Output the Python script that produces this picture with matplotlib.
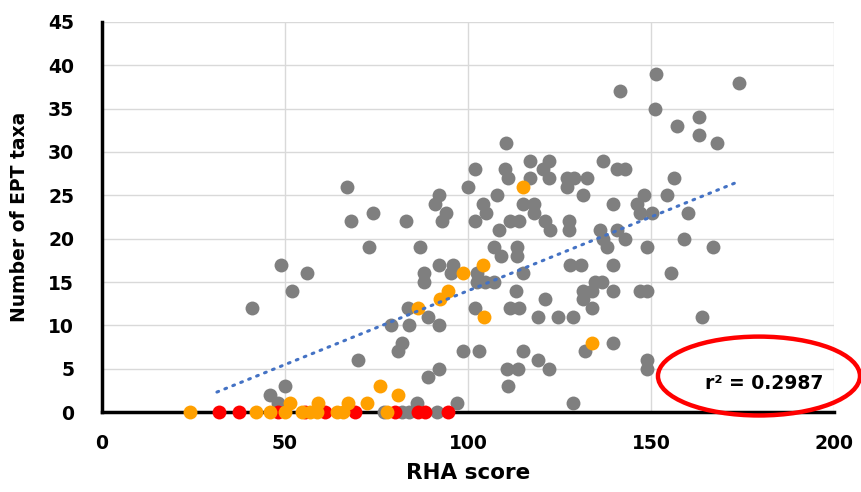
import matplotlib
matplotlib.use("Agg")
import matplotlib.pyplot as plt
from matplotlib.patches import Ellipse

# grey sites (RHA score, EPT taxa)
gray_x = [41, 49, 52, 56, 46, 50, 48,
          67, 74, 68, 73, 83, 87,
          92, 91, 94, 93,
          100, 102, 102, 104, 105, 108, 108.5, 110, 111,
          117, 122, 120.5, 122, 117, 127, 129, 132.5, 127,
          115, 118, 118, 111.5, 114, 121, 122.5, 127.5, 127.5,
          110.5, 137, 140.7, 143, 131.4, 148, 154.4, 139.6, 146.2, 147, 150.3, 160, 156.3,
          151.4, 174, 141.5, 151, 157, 163, 163, 168,
          136, 140.7, 143, 137, 138, 149, 159, 167,
          139.5, 128, 131, 115, 155.5, 134.7, 136.6, 131.4, 134, 139.5, 147, 149, 113,
          131.4, 134, 121, 111.5, 114, 119, 124.6, 128.7, 164,
          139.6, 132, 115, 119, 110.7, 113.7, 122, 149, 149, 111, 128.7,
          107, 109, 113.5, 113.5, 92, 96, 95.4, 88, 88, 102.5, 102.5, 104.6, 107,
          83.6, 89, 79, 84, 92, 102, 82, 81, 70, 98.6, 103, 92, 89, 86, 97,
          77, 82, 84, 91.5]
gray_y = [12, 17, 14, 16, 2, 3, 1,
          26, 23, 22, 19, 22, 19,
          25, 24, 23, 22,
          26, 28, 22, 24, 23, 25, 21, 28, 27,
          29, 29, 28, 27, 27, 27, 27, 27, 26,
          24, 24, 23, 22, 22, 22, 21, 22, 21,
          31, 29, 28, 28, 25, 25, 25, 24, 24, 23, 23, 23, 27,
          39, 38, 37, 35, 33, 34, 32, 31,
          21, 21, 20, 20, 19, 19, 20, 19,
          17, 17, 17, 16, 16, 15, 15, 14, 14, 14, 14, 14, 14,
          13, 12, 13, 12, 12, 11, 11, 11, 11,
          8, 7, 7, 6, 5, 5, 5, 6, 5, 3, 1,
          19, 18, 19, 18, 17, 17, 16, 16, 15, 16, 15, 15, 15,
          12, 11, 10, 10, 10, 12, 8, 7, 6, 7, 7, 5, 4, 1, 1,
          0, 0, 0, 0]

orange_x = [115, 98.6, 104, 94.5, 92.3, 86.3, 104.4, 134, 76, 81,
            24, 42, 46, 50, 51.4, 54.6, 56.8, 59, 58.7, 64.2, 65.8, 67.2, 72.4, 78]
orange_y = [26, 16, 17, 14, 13, 12, 11, 8, 3, 2,
            0, 0, 0, 0, 1, 0, 0, 1, 0, 0, 0, 1, 1, 0]

red_x = [32, 37.5, 48, 55.5, 61, 69, 80, 86.3, 88.3, 94.5]
red_y = [0, 0, 0, 0, 0, 0, 0, 0, 0, 0]

trend_x = [31.4, 174]
trend_y = [2.3, 26.6]
r2_text = "r\u00b2 = 0.2987"

fig = plt.figure(figsize=(8.61, 4.92), dpi=100)
ax = fig.add_axes([102 / 861, 80 / 492, 732 / 861, 390 / 492])

ax.set_xlim(0, 200)
ax.set_ylim(0, 45)
ax.set_xticks(range(0, 201, 50))
ax.set_yticks(range(0, 46, 5))
ax.grid(True, color="#d9d9d9", linewidth=1)
ax.set_axisbelow(True)

for side in ["top", "right"]:
    ax.spines[side].set_visible(False)
for side in ["left", "bottom"]:
    ax.spines[side].set_linewidth(2.5)
    ax.spines[side].set_color("black")

ax.tick_params(length=0, labelsize=13.5)
ax.tick_params(axis="x", pad=16)
ax.tick_params(axis="y", pad=20)
for lab in ax.get_xticklabels() + ax.get_yticklabels():
    lab.set_fontweight("bold")

ax.scatter(gray_x, gray_y, s=100, color="#7f7f7f", linewidths=0, zorder=3, clip_on=False)
ax.scatter(red_x, red_y, s=100, color="#ff0000", linewidths=0, zorder=4, clip_on=False)
ax.scatter(orange_x, orange_y, s=100, color="#ffa000", linewidths=0, zorder=5, clip_on=False)

ax.plot(trend_x, trend_y, color="#4472c4", linewidth=2.2,
        linestyle=(0, (0.6, 2.2)), dash_capstyle="round", zorder=6)

ax.set_xlabel("RHA score", fontsize=15.5, fontweight="bold", labelpad=7)
ax.set_ylabel("Number of EPT taxa", fontsize=13.5, fontweight="bold", labelpad=14)

ax.add_patch(Ellipse((179.5, 4.15), 55.2, 9.1, fill=False, edgecolor="#ff0000",
                     linewidth=3.2, clip_on=False, zorder=7))
ax.text(197, 3.3, r2_text, fontsize=13.5, fontweight="bold", ha="right", va="center", zorder=8)

fig.savefig("out.png", dpi=100)
